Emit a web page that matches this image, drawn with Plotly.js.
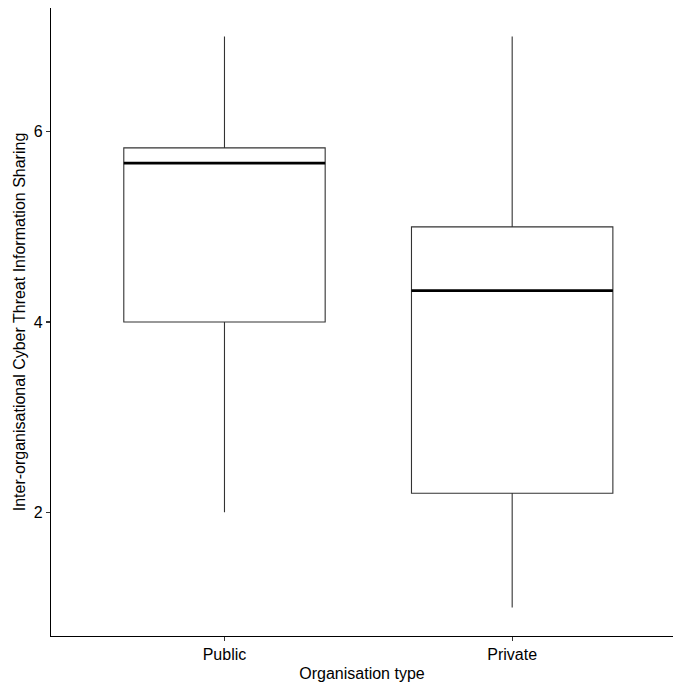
<!DOCTYPE html>
<html>
<head>
<meta charset="utf-8">
<script src="https://cdn.plot.ly/plotly-3.0.1.min.js"></script>
<style>
  html, body { margin: 0; padding: 0; background: #fff; overflow: hidden; }
  #chart { width: 673px; height: 684px; }
</style>
</head>
<body>
<div id="chart"></div>
<script>
// Five-number summaries per organisation type
const categories = ['Public', 'Private'];
const lowerWhisker = [2, 1];
const q1 = [4, 2.2];
const median = [5.67, 4.33];
const q3 = [5.83, 5];
const upperWhisker = [7, 7];

const positions = categories.map((_, i) => i + 1);
const boxWidth = 0.7;

const boxTrace = {
  type: 'box',
  x: positions,
  q1: q1,
  median: median,
  q3: q3,
  lowerfence: lowerWhisker,
  upperfence: upperWhisker,
  width: boxWidth,
  whiskerwidth: 0,
  fillcolor: '#ffffff',
  line: { color: '#333333', width: 1.1 },
  boxpoints: false,
  hoverinfo: 'skip',
  showlegend: false
};

// Bold median bars drawn across each box
const medX = [], medY = [];
positions.forEach((p, i) => {
  medX.push(p - boxWidth / 2, p + boxWidth / 2, null);
  medY.push(median[i], median[i], null);
});
const medianTrace = {
  type: 'scatter',
  mode: 'lines',
  x: medX,
  y: medY,
  line: { color: '#000000', width: 2.8 },
  hoverinfo: 'skip',
  showlegend: false
};

const font = { family: '"Liberation Sans", Arial, sans-serif', size: 16, color: '#000' };

const layout = {
  width: 673,
  height: 684,
  margin: { l: 51, r: 0, t: 8, b: 48 },
  paper_bgcolor: '#ffffff',
  plot_bgcolor: '#ffffff',
  font: font,
  xaxis: {
    range: [0.397, 2.559],
    tickvals: positions,
    ticktext: categories,
    showgrid: false,
    zeroline: false,
    showline: true,
    linecolor: '#000',
    linewidth: 1.1,
    ticks: 'outside',
    ticklen: 4,
    tickwidth: 1.1,
    tickcolor: '#333',
    tickfont: font,
    title: { text: 'Organisation type', font: font, standoff: 5 }
  },
  yaxis: {
    range: [0.7, 7.3],
    tickvals: [2, 4, 6],
    showgrid: false,
    zeroline: false,
    showline: true,
    linecolor: '#000',
    linewidth: 1.1,
    ticks: 'outside',
    ticklen: 4,
    tickwidth: 1.1,
    tickcolor: '#333',
    tickfont: font,
    title: { text: 'Inter-organisational Cyber Threat Information Sharing', font: font, standoff: 4 }
  }
};

Plotly.newPlot('chart', [boxTrace, medianTrace], layout, { displayModeBar: false, staticPlot: true });
</script>
</body>
</html>
